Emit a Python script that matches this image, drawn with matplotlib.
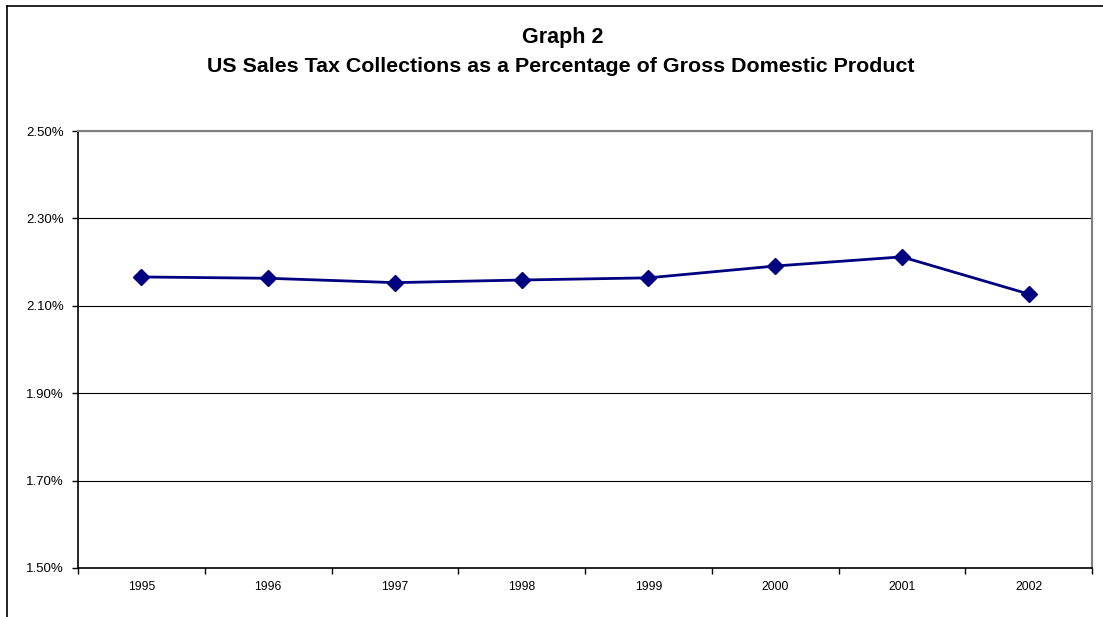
import matplotlib
matplotlib.use("Agg")
import matplotlib.pyplot as plt
from matplotlib.ticker import FuncFormatter, FixedLocator
from matplotlib.lines import Line2D

years = ["1995", "1996", "1997", "1998", "1999", "2000", "2001", "2002"]
pct_gdp = [2.166, 2.163, 2.153, 2.159, 2.164, 2.191, 2.212, 2.127]
y_ticks = [1.50, 1.70, 1.90, 2.10, 2.30, 2.50]

plt.rcParams['font.family'] = ['Liberation Sans', 'DejaVu Sans']

fig = plt.figure(figsize=(11.03, 6.17), dpi=100)
ax = fig.add_axes([78/1103, 1-568/617, (1092-78)/1103, (568-131)/617])

x = list(range(len(years)))
ax.plot(x, pct_gdp, color='#000080', linewidth=2.0, marker='D', markersize=8.3,
        markerfacecolor='#000080', markeredgecolor='#000080', zorder=3)

ax.set_xlim(-0.5, len(years) - 0.5)
ax.set_ylim(1.50, 2.50)
ax.set_yticks(y_ticks)
ax.yaxis.set_major_formatter(FuncFormatter(lambda v, p: f"{v:.2f}%"))
ax.set_xticks(x)
ax.set_xticklabels(years)
ax.xaxis.set_minor_locator(FixedLocator([i - 0.5 for i in range(len(years) + 1)]))
ax.tick_params(axis='x', which='major', length=0, labelsize=8.7, pad=9)
ax.tick_params(axis='x', which='minor', length=4, width=1, direction='out', color='black')
ax.tick_params(axis='y', length=4, width=1, direction='out', labelsize=9.5, pad=6)

ax.yaxis.grid(True, color='black', linewidth=0.8)
ax.set_axisbelow(True)
for s in ['top', 'right']:
    ax.spines[s].set_color('#808080')
    ax.spines[s].set_linewidth(1.5)
for s in ['left', 'bottom']:
    ax.spines[s].set_color('black')
    ax.spines[s].set_linewidth(1.2)

fig.text(563/1103, 1-38/617, "Graph 2", ha='center', va='center', fontsize=15.5, fontweight='bold')
fig.text(561/1103, 1-67/617, "US Sales Tax Collections as a Percentage of Gross Domestic Product",
         ha='center', va='center', fontsize=15.4, fontweight='bold')

fig.add_artist(Line2D([7/1103, 1.0], [1-6/617, 1-6/617], transform=fig.transFigure, color='black', linewidth=1.2))
fig.add_artist(Line2D([7/1103, 7/1103], [0, 1-6/617], transform=fig.transFigure, color='black', linewidth=1.2))

fig.savefig("out.png", dpi=100)
